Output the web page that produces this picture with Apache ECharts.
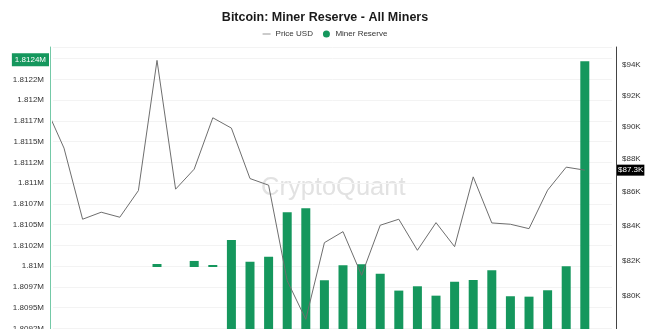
<!DOCTYPE html>
<html><head><meta charset="utf-8">
<script src="https://cdn.jsdelivr.net/npm/echarts@6/dist/echarts.min.js"></script>
<style>html,body{margin:0;padding:0;background:#fff}#c{width:650px;height:329px}</style>
</head><body><div id="c"></div>
<script>
const dates = ['2025-02-24','2025-02-25','2025-02-26','2025-02-27','2025-02-28','2025-03-01','2025-03-02','2025-03-03','2025-03-04','2025-03-05','2025-03-06','2025-03-07','2025-03-08','2025-03-09','2025-03-10','2025-03-11','2025-03-12','2025-03-13','2025-03-14','2025-03-15','2025-03-16','2025-03-17','2025-03-18','2025-03-19','2025-03-20','2025-03-21','2025-03-22','2025-03-23','2025-03-24','2025-03-25'];
const priceUSD = [91300,88688,84398,84812,84516,86101,94283,86185,87397,90584,89935,86825,86426,80856,78705,83030,83670,81161,84045,84398,82590,84198,82798,86928,84180,84104,83845,86125,87519,87336];
const minerReserve = [null,null,null,null,null,null,1810026,null,1810063,1810014,1810315,1810054,1810114,1810648,1810697,1809832,1810011,1810023,1809910,1809706,1809758,1809645,1809814,1809834,1809951,1809638,1809633,1809710,1809999,1812466];
const floatingDates = ['2025-03-02','2025-03-04','2025-03-05'];
const floatingFloor = 1809990;
const priceTicks = [80000,82000,84000,86000,88000,90000,92000,94000];

const DAY = 86400000;
function ts(d){const p=d.split('-').map(Number);return Date.UTC(p[0],p[1]-1,p[2]);}
const t = dates.map(ts);
const isFloat = dates.map(d => floatingDates.indexOf(d) >= 0);
const baseData = dates.map((d,i) => [t[i], minerReserve[i] == null ? null : (isFloat[i] ? floatingFloor : 0)]);
const barData = dates.map((d,i) => [t[i], minerReserve[i] == null ? null : (isFloat[i] ? minerReserve[i] - floatingFloor : minerReserve[i])]);
const lineData = dates.map((d,i) => [t[i], priceUSD[i]]);
const lastReserve = minerReserve[minerReserve.length-1];
const lastPrice = priceUSD[priceUSD.length-1];
const fmtM = v => (Math.floor(Math.round(v)/100)/10000) + 'M';
const GREEN = '#15975d';
const FONT = '"Liberation Sans", Arial, sans-serif';
const CLEAR = 'rgba(0,0,0,0)';

const chart = echarts.init(document.getElementById('c'), null, {renderer:'canvas'});
chart.setOption({
  animation: false,
  backgroundColor: '#fff',
  textStyle: {fontFamily: FONT},
  title: {text: 'Bitcoin: Miner Reserve - All Miners', left: 'center', top: 6,
    textStyle: {fontSize: 12.5, fontWeight: 'bold', color: '#1a1a1a', fontFamily: FONT}},
  legend: {top: 25, left: 'center', itemWidth: 8, itemHeight: 7, itemGap: 10,
    textStyle: {fontSize: 8, color: '#333', fontFamily: FONT},
    data: [{name: 'Price USD', icon: 'path://M0,0H10V1.1H0Z'}, {name: 'Miner Reserve', icon: 'circle'}]},
  graphic: [{type: 'text', left: 261, top: 175, z: -10, silent: true,
    style: {text: 'CryptoQuant', fill: '#e2e2e2', font: '500 25.5px ' + FONT}}],
  grid: {left: 53, right: 38, top: 47, bottom: -41, containLabel: false, outerBoundsMode: 'none'},
  xAxis: {type: 'time', show: false, min: ts('2025-02-25') - 0.3495*DAY, max: ts('2025-02-25') + 29.22*DAY},
  yAxis: [
    {type: 'value', position: 'left', offset: 3, min: 1808750, max: 1812639, interval: 250,
      axisLine: {show: true, lineStyle: {color: '#74c9a7', width: 1}},
      axisTick: {show: false},
      splitLine: {show: true, lineStyle: {color: '#f3f3f3'}},
      axisLabel: {fontSize: 8, color: '#333', margin: 6, showMaxLabel: false, formatter: fmtM}},
    {type: 'log', logBase: 10, position: 'right', offset: 4, min: 75976, max: 95167,
      axisLine: {show: true, lineStyle: {color: '#444', width: 1}},
      axisTick: {show: false},
      splitLine: {show: false},
      axisLabel: {fontSize: 8, color: '#333', margin: 6, customValues: priceTicks,
        formatter: v => '$' + Math.round(v/1000) + 'K'}}
  ],
  series: [
    {name: 'base', type: 'bar', stack: 'r', stackStrategy: 'all', yAxisIndex: 0, barWidth: 9,
      silent: true, itemStyle: {color: CLEAR}, data: baseData},
    {name: 'Miner Reserve', type: 'bar', stack: 'r', stackStrategy: 'all', yAxisIndex: 0, barWidth: 9,
      itemStyle: {color: GREEN}, data: barData, z: 2,
      markLine: {silent: true, symbol: 'none', lineStyle: {color: CLEAR, width: 1, type: 'solid'},
        label: {show: true, position: 'start', distance: 4, formatter: () => fmtM(lastReserve),
          backgroundColor: GREEN, color: '#fff', fontSize: 8, padding: [3, 3, 2, 3], fontFamily: FONT, offset: [0, -1.5]},
        data: [{yAxis: lastReserve}]}},
    {name: 'Price USD', type: 'line', yAxisIndex: 1, data: lineData, symbol: 'none', showSymbol: false, z: 3,
      lineStyle: {color: '#6e6e6e', width: 1}, itemStyle: {color: '#888'},
      markLine: {silent: true, symbol: 'none', lineStyle: {color: CLEAR, width: 1, type: 'solid'},
        label: {show: true, position: 'end', distance: 5, formatter: () => '$' + (lastPrice/1000).toFixed(1) + 'K',
          backgroundColor: '#000', color: '#fff', fontSize: 8, padding: [2, 1, 1, 1], fontFamily: FONT},
        data: [{yAxis: lastPrice}]}}
  ]
});
</script></body></html>
